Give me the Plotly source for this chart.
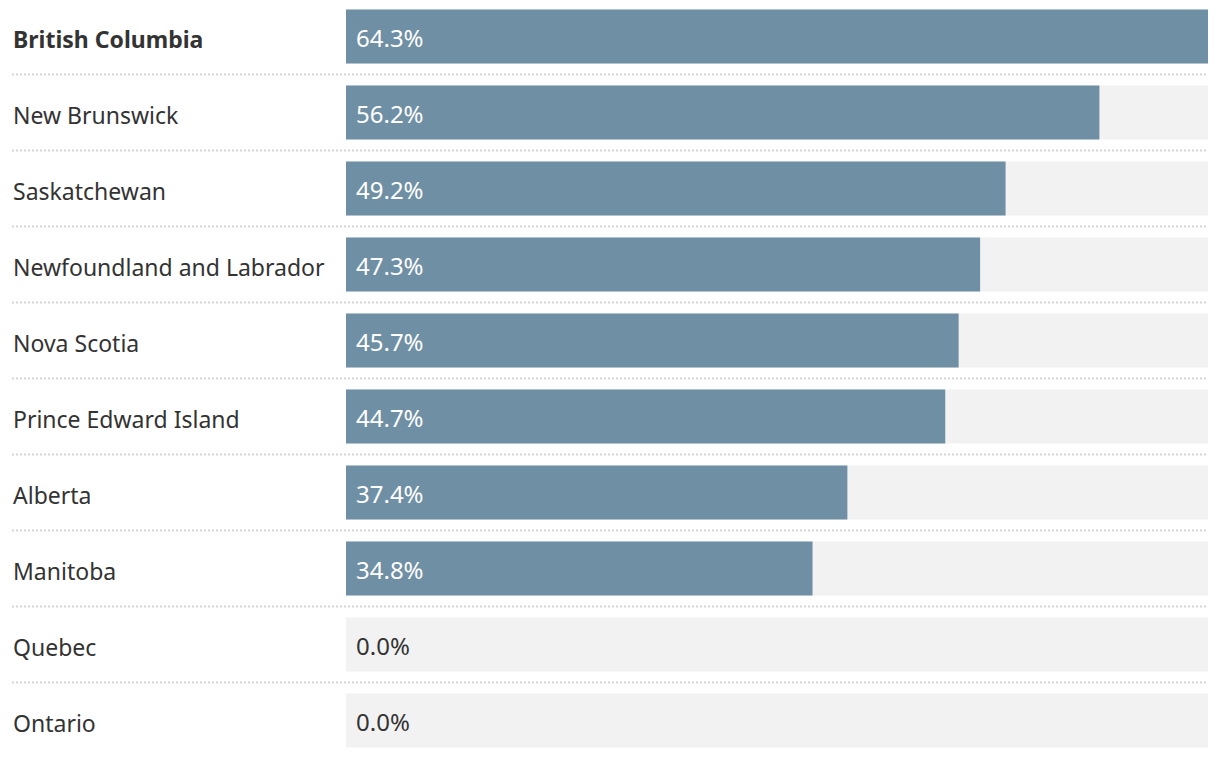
import plotly.graph_objects as go

provinces = ["British Columbia", "New Brunswick", "Saskatchewan", "Newfoundland and Labrador",
             "Nova Scotia", "Prince Edward Island", "Alberta", "Manitoba", "Quebec", "Ontario"]
values = [64.3, 56.2, 49.2, 47.3, 45.7, 44.7, 37.4, 34.8, 0.0, 0.0]
highlight = "British Columbia"

BAR = "#6f8fa5"
BG = "#f2f2f2"
TXT = "#333333"
FONT = "Noto Sans"

OFF = 8  # page body margin
W, H = 1220 - 2 * OFF, 758 - 2 * OFF
L, R = 346 - OFF, 1208 - OFF
pitch = 76.0
c0 = 36.5 - OFF

n = len(provinces)
ys = list(range(n))
vmax = max(values)

fig = go.Figure()
fig.add_trace(go.Bar(y=ys, x=[vmax] * n, orientation="h", marker=dict(color=BG, line_width=0),
                     width=0.71, hoverinfo="skip", showlegend=False))
fig.add_trace(go.Bar(y=ys, x=values, orientation="h", marker=dict(color=BAR, line_width=0),
                     width=0.71, showlegend=False))

pw = R - L
def px2paper(px):
    return (px - OFF - L) / pw

for i, (p, v) in enumerate(zip(provinces, values)):
    label = f"<b>{p}</b>" if p == highlight else p
    fig.add_annotation(x=px2paper(11), xref="paper", y=i, yref="y", text=label, showarrow=False,
                       xanchor="left", yanchor="middle", yshift=-2,
                       font=dict(family=FONT, size=23, color=TXT))
    fig.add_annotation(x=0, xref="x", y=i, yref="y", text=f"{v:.1f}%", showarrow=False,
                       xanchor="left", yanchor="middle", xshift=8, yshift=-1,
                       font=dict(family=FONT, size=24, color="white" if v > 0 else TXT))
    if i < n - 1:
        fig.add_shape(type="line", xref="paper", yref="y", x0=px2paper(12), x1=1.0,
                      y0=i + 0.5, y1=i + 0.5, line=dict(color="#d6d6d6", width=2, dash="2px,2px"))

ytop = -c0 / pitch
ybot = (n - 1) + (H - (c0 + (n - 1) * pitch)) / pitch

fig.update_layout(
    width=W, height=H, margin=dict(l=L, r=W - R, t=0, b=0, pad=0),
    paper_bgcolor="white", plot_bgcolor="white", barmode="overlay",
    xaxis=dict(range=[0, vmax], visible=False, fixedrange=True),
    yaxis=dict(range=[ybot, ytop], visible=False, fixedrange=True),
    font=dict(family=FONT),
)
fig.write_html("out.html")
